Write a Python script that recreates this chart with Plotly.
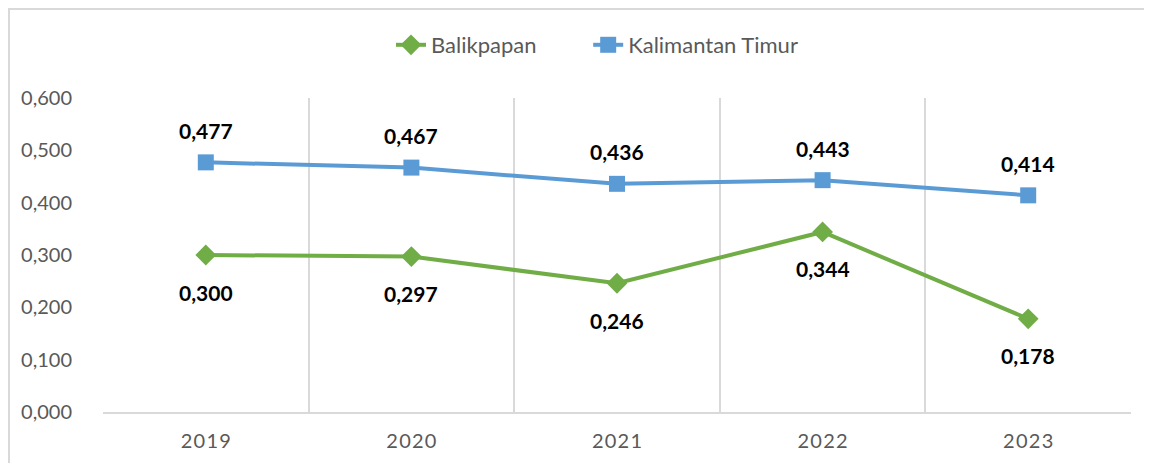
import plotly.graph_objects as go

years = ["2019", "2020", "2021", "2022", "2023"]
year_labels = ["2\u200a0\u200a1\u200a9", "2\u200a0\u200a2\u200a0", "2\u200a0\u200a2\u200a1", "2\u200a0\u200a2\u200a2", "2\u200a0\u200a2\u200a3"]
balikpapan = [0.300, 0.297, 0.246, 0.344, 0.178]
kaltim = [0.477, 0.467, 0.436, 0.443, 0.414]
y_ticks = [0.0, 0.1, 0.2, 0.3, 0.4, 0.5, 0.6]

GREEN = "#70AD47"
BLUE = "#5B9BD5"
FONT = "Lato, Open Sans, sans-serif"

x = list(range(len(years)))

fig = go.Figure()
fig.add_trace(go.Scatter(
    x=x, y=balikpapan, name="Balikpapan\u2003\u2003\u2002\u2009", mode="lines+markers",
    line=dict(color=GREEN, width=4),
    marker=dict(symbol="diamond", size=16, color=GREEN),
))
fig.add_trace(go.Scatter(
    x=x, y=kaltim, name="Kalimantan Timur", mode="lines+markers",
    line=dict(color=BLUE, width=4),
    marker=dict(symbol="square", size=16, color=BLUE),
))

def fmt(v):
    return f"{v:.3f}".replace(".", ",")

for xi, v in zip(x, kaltim):
    fig.add_annotation(x=xi, y=v, text=f"<b>{fmt(v)}</b>", showarrow=False,
                       yshift=32, font=dict(family=FONT, size=21, color="#000000"))
for xi, v in zip(x, balikpapan):
    fig.add_annotation(x=xi, y=v, text=f"<b>{fmt(v)}</b>", showarrow=False,
                       yshift=-37, font=dict(family=FONT, size=21, color="#000000"))

W, H = 1144, 455
L, R, T, B = 95, 21, 90, 51
pw, ph = W - L - R, H - T - B

# outer chart border
fig.add_shape(type="rect", xref="paper", yref="paper",
              x0=(1 - L) / pw, x1=(W + 10 - L) / pw,
              y0=-(B + 10) / ph, y1=((H - B) - 1) / ph,
              line=dict(color="#D9D9D9", width=2), fillcolor="rgba(0,0,0,0)", layer="below")

fig.update_layout(
    width=W, height=H,
    margin=dict(l=L, r=R, t=T, b=B),
    paper_bgcolor="white", plot_bgcolor="white",
    separators=",.",
    showlegend=True,
    legend=dict(orientation="h", x=(391 - 103) / pw, xanchor="left", y=1.0 + (90 - 37) / ph, yanchor="middle",
                font=dict(family=FONT, size=22, color="#595959"),
                traceorder="normal"),
    xaxis=dict(
        range=[-0.5, 4.5], tickvals=x, ticktext=year_labels,
        showgrid=False, zeroline=False,
        showline=True, linecolor="#D9D9D9", linewidth=2,
        tickfont=dict(family=FONT, size=20, color="#595959"),
        ticks="", ticklabelstandoff=10,
        minor=dict(tickvals=[-0.5, 0.5, 1.5, 2.5, 3.5, 4.5], showgrid=True,
                   gridcolor="#D9D9D9", gridwidth=2, ticks=""),
    ),
    yaxis=dict(
        range=[0, 0.6], tickvals=y_ticks, tickformat=".3f",
        showgrid=False, zeroline=False, showline=False,
        tickfont=dict(family=FONT, size=20, color="#595959"),
        ticks="", ticklabelstandoff=30,
    ),
)

fig.write_html("out.html")
